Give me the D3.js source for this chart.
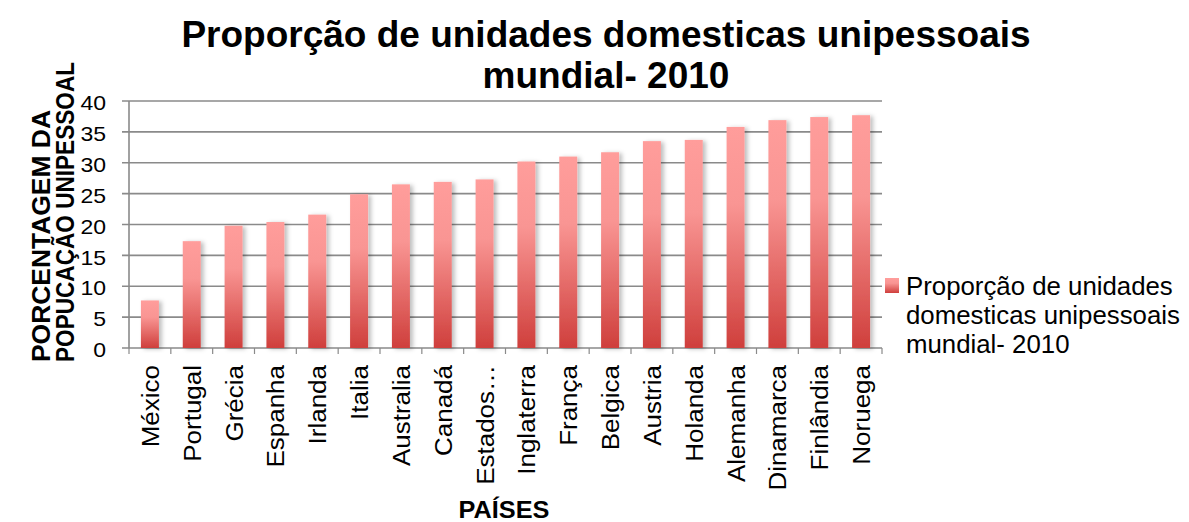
<!DOCTYPE html>
<html><head><meta charset="utf-8">
<script src="https://cdn.jsdelivr.net/npm/d3@7/dist/d3.min.js"></script>
<style>body{margin:0;background:#fff}svg{display:block;font-family:"Liberation Sans",Arial,sans-serif}</style>
</head><body><svg id="c" width="1189" height="522"></svg>
<script>
const categories = ["México","Portugal","Grécia","Espanha","Irlanda","Italia","Australia","Canadá","Estados…","Inglaterra","França","Belgica","Austria","Holanda","Alemanha","Dinamarca","Finlândia","Noruega"];
const values = [7.7,17.3,19.8,20.4,21.6,24.9,26.5,26.9,27.3,30.2,31.0,31.7,33.5,33.7,35.8,36.9,37.4,37.7];
const yTicks = [0,5,10,15,20,25,30,35,40];
const titleLines = ["Proporção de unidades domesticas unipessoais","mundial- 2010"];
const yTitleLines = ["PORCENTAGEM DA","POPUCAÇÃO UNIPESSOAL"];
const xTitle = "PAÍSES";
const legendLines = ["Proporção de unidades","domesticas unipessoais","mundial- 2010"];

const svg = d3.select("#c");
const L=129, R=882, T=101, B=348;
const x = d3.scaleBand().domain(categories).range([L,R]).paddingInner(0.57).paddingOuter(0.285);
const y = d3.scaleLinear().domain([0,40]).range([B,T]);

const defs = svg.append("defs");
const g = defs.append("linearGradient").attr("id","bg").attr("x1",0).attr("y1",0).attr("x2",0).attr("y2",1);
g.append("stop").attr("offset","0%").attr("stop-color","#ff9d9b");
g.append("stop").attr("offset","35%").attr("stop-color","#f99593");
g.append("stop").attr("offset","100%").attr("stop-color","#cf3f3c");
const f = defs.append("filter").attr("id","sh").attr("x","-30%").attr("y","-10%").attr("width","180%").attr("height","120%");
f.append("feDropShadow").attr("dx",3).attr("dy",1).attr("stdDeviation",2).attr("flood-color","#000").attr("flood-opacity",0.25);

// gridlines
svg.append("g").selectAll("line").data(yTicks).join("line")
  .attr("x1",L-7).attr("x2",R).attr("y1",d=>y(d)).attr("y2",d=>y(d))
  .attr("stroke","#8a8a8a").attr("stroke-width",1.6);
// y axis line
svg.append("line").attr("x1",L).attr("x2",L).attr("y1",T).attr("y2",B).attr("stroke","#8a8a8a").attr("stroke-width",1.6);
// y tick labels
svg.append("g").selectAll("text").data(yTicks).join("text")
  .attr("transform",d=>`translate(106,${y(d)+2}) scale(1.15,1)`)
  .attr("dy","0.36em").attr("text-anchor","end")
  .attr("font-size",20).attr("fill","#000").text(d=>d);

// bars
svg.append("g").selectAll("rect").data(values).join("rect")
  .attr("x",(d,i)=>x(categories[i])).attr("width",x.bandwidth())
  .attr("y",d=>y(d)).attr("height",d=>B-y(d))
  .attr("fill","url(#bg)").attr("filter","url(#sh)");

// x axis ticks (between categories)
svg.append("g").selectAll("line").data(d3.range(categories.length+1)).join("line")
  .attr("x1",d=>L+d*(R-L)/categories.length).attr("x2",d=>L+d*(R-L)/categories.length)
  .attr("y1",B).attr("y2",B+6).attr("stroke","#8a8a8a").attr("stroke-width",1.2);

// x labels
svg.append("g").selectAll("text").data(categories).join("text")
  .attr("transform",d=>`translate(${x(d)+x.bandwidth()/2+9},365) rotate(-90) scale(1.13,1)`)
  .attr("text-anchor","end").attr("font-size",23).attr("fill","#000").text(d=>d);

// title
svg.append("g").selectAll("text").data(titleLines).join("text")
  .attr("x",606).attr("y",(d,i)=>47+i*41).attr("text-anchor","middle")
  .attr("font-size",37).attr("font-weight","bold").attr("fill","#000").text(d=>d);

// y title
const yLen = [252, 300];
svg.append("g").selectAll("text").data(yTitleLines).join("text")
  .attr("transform",(d,i)=>`translate(${50+i*24},362) rotate(-90)`)
  .attr("text-anchor","start").attr("font-size",25).attr("font-weight","bold").attr("fill","#000")
  .attr("textLength",(d,i)=>yLen[i]).attr("lengthAdjust","spacingAndGlyphs").text(d=>d);

// x title
svg.append("text").attr("transform","translate(504,518) scale(1.1,1)").attr("text-anchor","middle")
  .attr("font-size",23).attr("font-weight","bold").attr("fill","#000").text(xTitle);

// legend
svg.append("rect").attr("x",885).attr("y",278).attr("width",14).attr("height",15).attr("fill","url(#bg)");
svg.append("g").selectAll("text").data(legendLines).join("text")
  .attr("x",906).attr("y",(d,i)=>295+i*29).attr("font-size",25.8).attr("fill","#000").text(d=>d);
</script></body></html>
